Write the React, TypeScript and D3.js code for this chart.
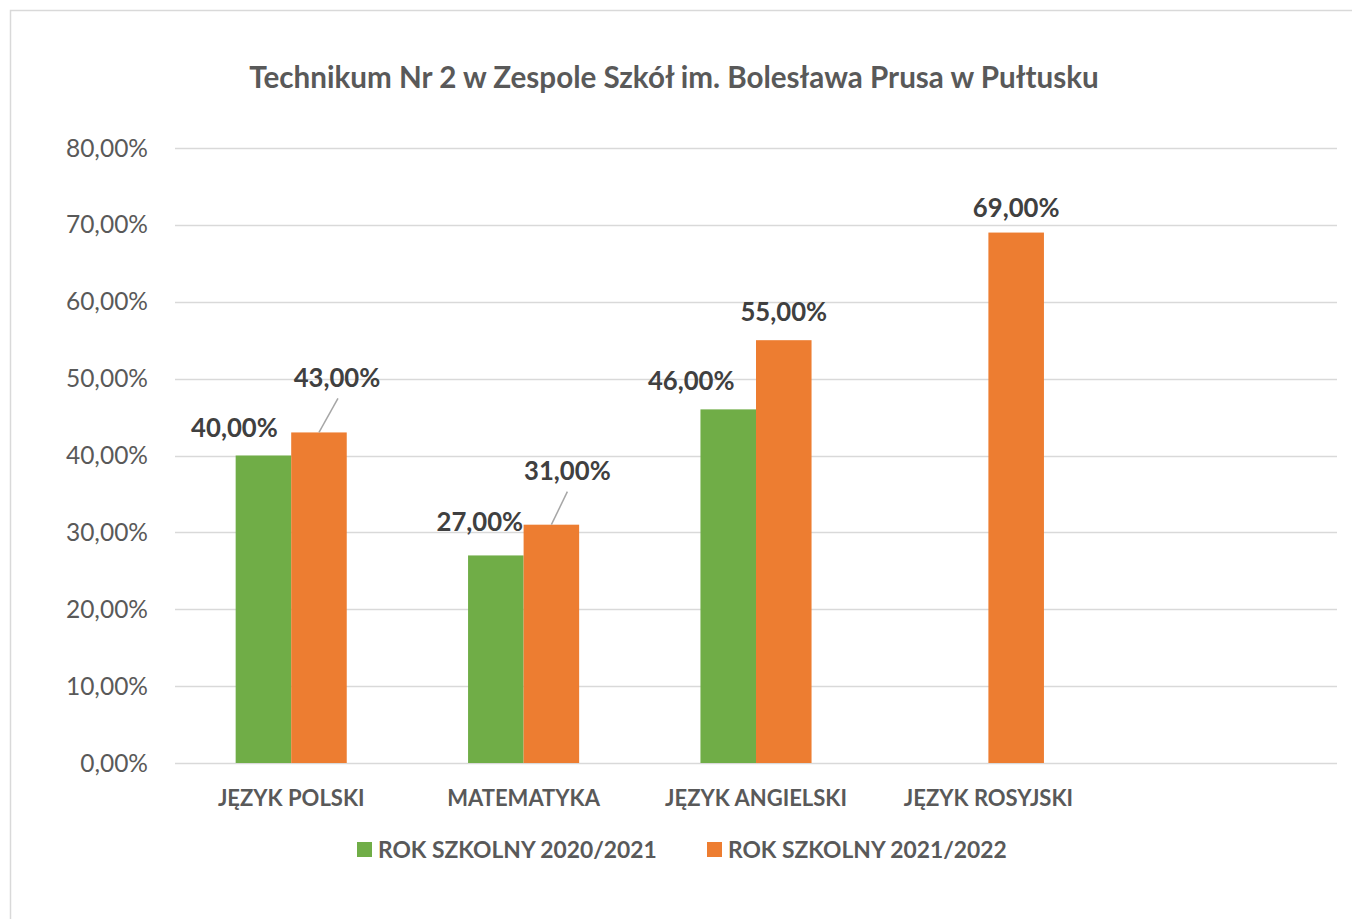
import { useRef, useEffect } from "react";
import * as d3 from "d3";

const categories = ["JĘZYK POLSKI", "MATEMATYKA", "JĘZYK ANGIELSKI", "JĘZYK ROSYJSKI", ""];
const series = ["ROK SZKOLNY 2020/2021", "ROK SZKOLNY 2021/2022"];
const values2021 = [40, 27, 46, null, null];
const values2022 = [43, 31, 55, 69, null];
const yTicks = [0, 10, 20, 30, 40, 50, 60, 70, 80];
const colors = ["#70ad47", "#ed7d31"];

// manual label placement (dx, dy from bar top centre) as dragged in the original
const labelNudge = [
  [[-29, -19], [18, -45]],
  [[-16, -24], [16, -45]],
  [[-37, -19], [0, -19]],
  [[0, 0], [0, -16]],
];
// leader line end offsets, null = no leader
const leaders = [[null, [19, -34]], [null, [16, -33]], [null, null], [null, null]];

export default function App() {
  const ref = useRef<SVGSVGElement>(null);

  useEffect(() => {
    const svg = d3.select(ref.current);
    svg.selectAll("*").remove();
    const font = "Lato, 'Open Sans', sans-serif";

    svg.append("rect").attr("x", 10.5).attr("y", 10.5).attr("width", 1400).attr("height", 1000)
      .attr("fill", "#fff").attr("stroke", "#d9d9d9").attr("stroke-width", 1.5);

    svg.append("text").attr("x", 674).attr("y", 88).attr("text-anchor", "middle")
      .attr("font-family", font).attr("font-weight", "bold").attr("font-size", 29.6)
      .attr("fill", "#595959").text("Technikum Nr 2 w Zespole Szkół im. Bolesława Prusa w Pułtusku");

    const x = d3.scaleBand().domain(d3.range(categories.length).map(String)).range([175, 1337]).padding(0);
    const bw = x.bandwidth();
    const groupW = bw * 0.478;
    const xs = d3.scaleBand().domain(["0", "1"]).range([(bw - groupW) / 2, (bw + groupW) / 2]).padding(0);
    const y = d3.scaleLinear().domain([0, 80]).range([763, 148]);

    const g = svg.append("g");
    g.selectAll("line.grid").data(yTicks).join("line")
      .attr("x1", 175).attr("x2", 1337)
      .attr("y1", (d) => Math.round(y(d)) + 0.5).attr("y2", (d) => Math.round(y(d)) + 0.5)
      .attr("stroke", "#d9d9d9").attr("stroke-width", 1.5);

    g.selectAll("text.tick").data(yTicks).join("text")
      .attr("x", 148).attr("y", (d) => y(d)).attr("dy", "0.35em").attr("text-anchor", "end")
      .attr("font-family", font).attr("font-size", 24.5).attr("fill", "#595959")
      .text((d) => d3.format(".2f")(d).replace(".", ",") + "%");

    const fmt = (v: number) => v.toFixed(2).replace(".", ",") + "%";
    [values2021, values2022].forEach((vals, si) => {
      vals.forEach((v, ci) => {
        if (v == null) return;
        const bx = (x(String(ci)) as number) + (xs(String(si)) as number);
        g.append("rect").attr("x", bx).attr("y", y(v)).attr("width", xs.bandwidth())
          .attr("height", y(0) - y(v)).attr("fill", colors[si]);
      });
    });

    [values2021, values2022].forEach((vals, si) => {
      vals.forEach((v, ci) => {
        if (v == null) return;
        const cx = (x(String(ci)) as number) + (xs(String(si)) as number) + xs.bandwidth() / 2;
        const [dx, dy] = labelNudge[ci][si];
        const lead = leaders[ci][si];
        if (lead) {
          g.append("line").attr("x1", cx).attr("y1", y(v)).attr("x2", cx + lead[0]).attr("y2", y(v) + lead[1])
            .attr("stroke", "#a6a6a6").attr("stroke-width", 1.5);
        }
        g.append("text").attr("x", cx + dx).attr("y", y(v) + dy).attr("text-anchor", "middle")
          .attr("font-family", font).attr("font-weight", "bold").attr("font-size", 25.7)
          .attr("fill", "#404040").text(fmt(v));
      });
    });

    g.selectAll("text.cat").data(categories).join("text")
      .attr("x", (_, i) => (x(String(i)) as number) + bw / 2).attr("y", 806).attr("text-anchor", "middle")
      .attr("font-family", font).attr("font-weight", "bold").attr("font-size", 22).attr("fill", "#595959")
      .text((d) => d);

    const legendX = [357, 707];
    series.forEach((s, i) => {
      svg.append("rect").attr("x", legendX[i]).attr("y", 842).attr("width", 15).attr("height", 15).attr("fill", colors[i]);
      svg.append("text").attr("x", legendX[i] + 21).attr("y", 858)
        .attr("font-family", font).attr("font-weight", "bold").attr("font-size", 22.8).attr("fill", "#595959").text(s);
    });
  }, []);

  return <svg ref={ref} width={1352} height={919} style={{ position: "absolute", left: 0, top: 0 }} />;
}
